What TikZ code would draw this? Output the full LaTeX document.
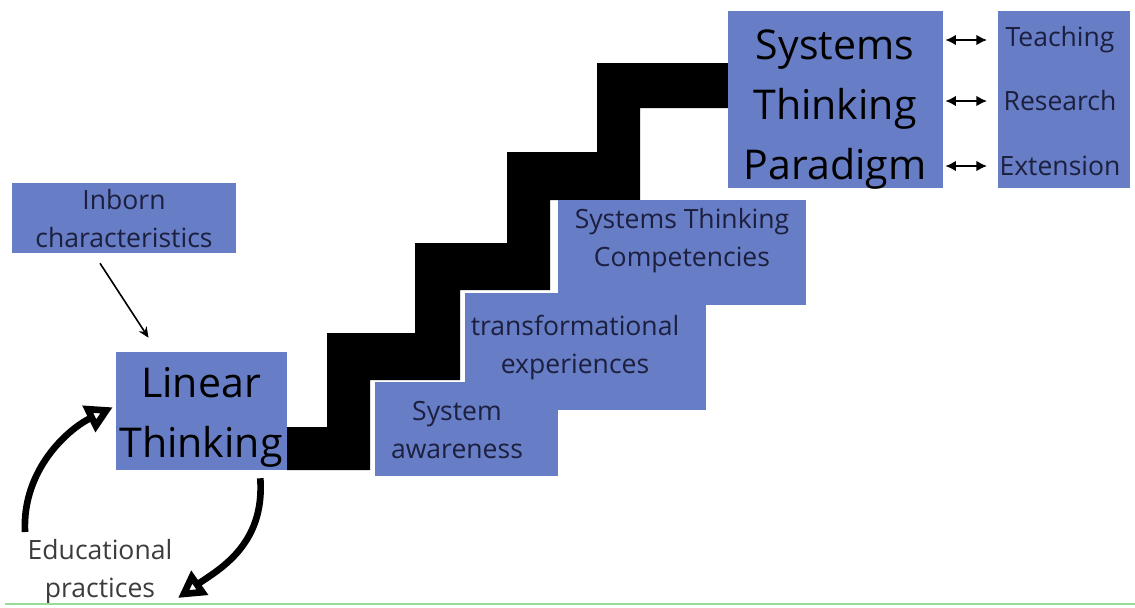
\documentclass[tikz,border=0pt]{standalone}
\usepackage{fontspec}
\setmainfont{Open Sans}
\usetikzlibrary{arrows.meta,fit,calc}

\definecolor{boxblue}{RGB}{103,125,198}
\definecolor{inkblue}{RGB}{28,31,62}
\definecolor{inkgray}{RGB}{60,60,60}
\definecolor{rulegreen}{RGB}{150,220,150}

\tikzset{
  box/.style={fill=boxblue, inner sep=0pt},
  small/.style={text=inkblue, align=center, font=\fontsize{19.9}{28.5}\selectfont},
  large/.style={text=black, align=center, font=\fontsize{30.8}{45}\selectfont},
  thinarrow/.style={line width=1.2pt, -{Stealth[length=8pt,width=7pt]}},
  bothway/.style={line width=1.5pt, {Latex[length=8pt,width=8pt]}-{Latex[length=8pt,width=8pt]}},
  looparrow/.style={line width=5pt, -{Triangle[open,length=20pt,width=21pt]}},
}

\begin{document}
\begin{tikzpicture}[x=0.75pt,y=-0.75pt]
\useasboundingbox (0,0) rectangle (1135,607);
\fill (287,427) -- (327,427) -- (327,333) -- (415,333) -- (415,243) -- (507,243)
  -- (507,152) -- (597,152) -- (597,63) -- (728,63) -- (728,108) -- (640,108)
  -- (640,200) -- (550,200) -- (550,290) -- (460,290) -- (460,380) -- (370,380)
  -- (370,470) -- (287,470) -- cycle;%階段

\node[box, fit={(12,183) (236,253)}] (inbornbox) {};
\node[box, fit={(116,352) (287,470)}] (linearbox) {};
\node[box, fit={(375,382) (558,476)}] (awarebox) {};
\node[box, fit={(465,293) (706,410)}] (transbox) {};
\node[box, fit={(558,200) (806,305)}] (compbox) {};
\node[box, fit={(728,11) (943,188)}] (paradigmbox) {};
\node[box, fit={(998,11) (1130,188)}] (outbox) {};

\node[small] (inborn) at (124,219) {Inborn\\characteristics};
\node[large] (linear) at (201,417) {Linear\\Thinking};
\node[small] (aware) at (457,430) {System\\awareness};
\node[small] (trans) at (575,348) {transformational\\experiences};
\node[small] (comp) at (682,241) {Systems Thinking\\Competencies};
\node[large] (paradigm) at (835,110) {Systems\\Thinking\\Paradigm};
\node[small, text=inkgray] (educ) at (100,572) {Educational\\practices};

\foreach \id/\txt/\y in {teach/Teaching/40, research/Research/101, ext/Extension/166}
  {
   \node[small] (\id) at (1060,\y) {\txt};
   \draw[bothway, shorten <=1.5pt, shorten >=8pt] (paradigmbox.east |- \id) -- (outbox.west |- \id);
  }

\draw[thinarrow] ([shift={(-24,10)}]inbornbox.south) -- ([shift={(-53,-14)}]linearbox.north);
\draw[looparrow] ([shift={(-75,-40)}]educ.center) .. controls +(-3,-62) and +(-45,22) .. ([shift={(-3,-63)}]linearbox.south west);%左の矢印
\draw[looparrow] ([shift={(-27,8)}]linearbox.south east) .. controls +(5,67) and +(40,-28) .. ([shift={(78,26)}]educ.center);%右の矢印

\draw[rulegreen, line width=1.2pt] (5,604) -- (1135,604);
\end{tikzpicture}
\end{document}
